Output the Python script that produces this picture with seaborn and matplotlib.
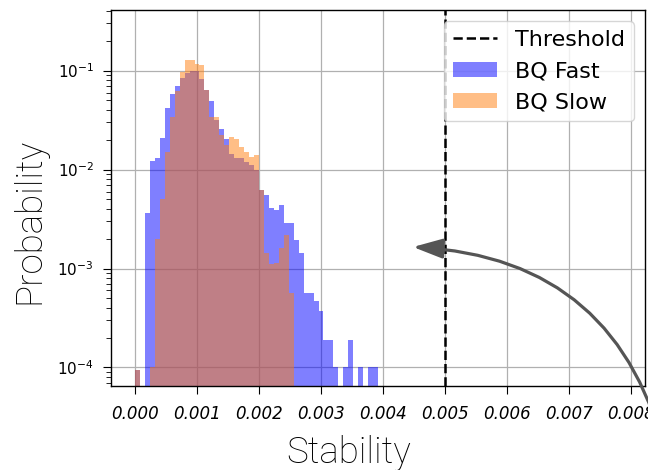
import numpy as np
import pandas as pd
import matplotlib
matplotlib.use("Agg")
import matplotlib.pyplot as plt
import seaborn as sns
from matplotlib.patches import Patch

# ---- data (probability per bin, bins of width 0.00008 starting at 0) ----
bin_width = 0.00008
bq_fast = [9.5e-5, 0, 3.67e-3, 1.22e-2, 1.30e-2, 2.07e-2, 4.22e-2, 5.8e-2, 7.0e-2,
           8.4e-2, 9.55e-2, 0.100, 0.100, 0.082, 0.064, 0.049, 0.032, 0.0255,
           0.0202, 0.0144, 0.013, 0.013, 0.012, 0.0111, 0.0099, 0.0062, 0.0055,
           0.0041, 0.0039, 0.0044, 0.0029, 0.0029, 0.00195, 0.00143, 5.6e-4,
           5.6e-4, 4.7e-4, 3.74e-4, 1.9e-4, 1.9e-4, 1e-4, 0, 1e-4, 1.9e-4, 0,
           1e-4, 0, 1e-4, 1e-4]
bq_slow = [9.5e-5, 0, 0, 1e-4, 1.97e-3, 5.1e-3, 1.52e-2, 3.43e-2, 6.2e-2, 9.6e-2,
           0.128, 0.128, 0.118, 0.114, 0.063, 0.034, 0.034, 0.0224, 0.0177,
           0.0212, 0.0205, 0.017, 0.015, 0.0135, 0.0141, 0.0062, 0.00143,
           0.0011, 0.00113, 0.0016, 0.0022, 5.6e-4]
threshold = 0.005
x_ticks = [0.000, 0.001, 0.002, 0.003, 0.004, 0.005, 0.006, 0.007, 0.008]
labels = ["Threshold", "BQ Fast", "BQ Slow"]

n_bins = len(bq_fast)
centers = (np.arange(n_bins) + 0.5) * bin_width
slow_full = bq_slow + [0] * (n_bins - len(bq_slow))
df = pd.DataFrame({"center": centers, "fast": bq_fast, "slow": slow_full})

W, H = 648, 470
fig = plt.figure(figsize=(W / 100, H / 100), dpi=100)
ax = fig.add_axes([110.5 / W, 1 - 386 / H, (645 - 110.5) / W, (386 - 10) / H])

fast_color = "blue"
slow_color = "#ff7f0e"
hist_kw = dict(binwidth=bin_width, binrange=(0, n_bins * bin_width),
               alpha=0.5, edgecolor="none", linewidth=0, ax=ax, stat="count")
sns.histplot(data=df, x="center", weights="fast", color=fast_color, **hist_kw)
sns.histplot(data=df, x="center", weights="slow", color=slow_color, **hist_kw)
ax.set_yscale("log")
thr = ax.axvline(threshold, color="black", linestyle="--", linewidth=1.8)

ax.set_xlim(-0.000395, 0.008225)
ax.set_ylim(6.5e-5, 0.41)
ax.set_xticks(x_ticks)
ax.set_xticklabels([f"{t:.3f}" for t in x_ticks], fontstyle="italic", fontsize=12)
ax.tick_params(axis="y", which="major", labelsize=11, length=6, pad=6)
ax.tick_params(axis="y", which="minor", length=3.5)
ax.tick_params(axis="x", which="major", length=6, pad=8)
ax.grid(True, which="major", color="#b0b0b0", linewidth=0.9)
ax.set_axisbelow(True)
for s in ax.spines.values():
    s.set_linewidth(1.0)

lab_font = dict(family=["Roboto", "DejaVu Sans"], fontweight="light",
                fontsize=26.5, color="black")
ax.set_xlabel("Stability", **lab_font)
ax.set_ylabel("Probability", **lab_font)
ax.xaxis.set_label_coords(0.446, -0.13)
ax.yaxis.set_label_coords(-0.118, 0.439)

handles = [thr,
           Patch(facecolor=fast_color, alpha=0.5, edgecolor="none"),
           Patch(facecolor=slow_color, alpha=0.5, edgecolor="none")]
ax.legend(handles, labels, loc="upper right", fontsize=16)

ax.annotate("", xy=(413 / W, 1 - 247 / H), xycoords="figure fraction",
            xytext=(667 / W, 1 - 462 / H), textcoords="figure fraction",
            arrowprops=dict(arrowstyle="-|>,head_length=0.9,head_width=0.3",
                            mutation_scale=20, color="#555555", lw=2.3,
                            shrinkA=0, shrinkB=0,
                            connectionstyle="arc3,rad=0.38"),
            annotation_clip=False)

fig.savefig("out.png", dpi=100)
